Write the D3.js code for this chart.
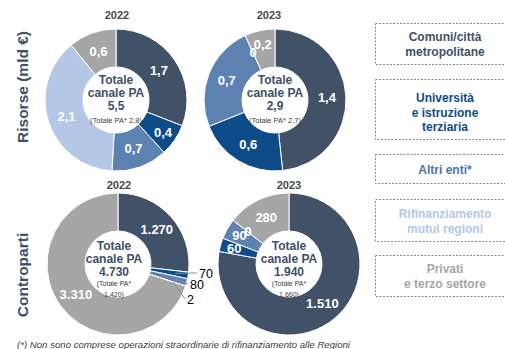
<!DOCTYPE html>
<html>
<head>
<meta charset="utf-8">
<script src="https://cdn.jsdelivr.net/npm/d3@7"></script>
<style>
  html, body { margin: 0; padding: 0; background: #fff; }
  svg { display: block; font-family: "Liberation Sans", Arial, sans-serif; }
</style>
</head>
<body>
<svg id="chart" width="505" height="349"></svg>
<script>
// Categories (legend order = slice order, clockwise from 12 o'clock)
const categories = [
  "Comuni/città metropolitane",
  "Università e istruzione terziaria",
  "Altri enti*",
  "Rifinanziamento mutui regioni",
  "Privati e terzo settore"
];
const legendLines = [
  ["Comuni/città", "metropolitane"],
  ["Università", "e istruzione", "terziaria"],
  ["Altri enti*"],
  ["Rifinanziamento", "mutui regioni"],
  ["Privati", "e terzo settore"]
];
const years = ["2022", "2023"];

// Risorse (mld €)
const risorse2022 = [1.7, 0.4, 0.7, 2.1, 0.6];
const risorse2023 = [1.4, 0.6, 0.7, 0, 0.2];
// Controparti (numero)
const controparti2022 = [1270, 70, 80, 2, 3310];
const controparti2023 = [1510, 60, 90, 0, 280];

// Totals shown in the donut holes
const totaleCanaleRisorse = [5.5, 2.9];
const totalePARisorse = [2.8, 2.7];
const totaleCanaleControparti = [4730, 1940];
const totalePAControparti = [1420, 1660];

const sliceColors = ["#415168", "#0E4C89", "#5D81B1", "#B4C7E7", "#A6A6A6"];
const legendColors = ["#3F5068", "#0E4C89", "#4D76AE", "#B4C7E7", "#A6A6A6"];

const it = d3.formatLocale({ decimal: ",", thousands: ".", grouping: [3], currency: ["€", ""] });
const fmtMld = v => v === 0 ? "0" : it.format(".1f")(v);
const fmtNum = v => it.format(",d")(v);

const svg = d3.select("#chart");
const W = 505, H = 349;
svg.append("rect").attr("width", W).attr("height", H).attr("fill", "#fff");

const outerR = 71, innerR = 33;
const color = d3.scaleOrdinal().domain(categories).range(sliceColors);
const pie = d3.pie().sort(null).value(d => d.value);
const arc = d3.arc().innerRadius(innerR).outerRadius(outerR);
// narrow slices get their label pushed a little further out
const labelArc = d3.arc()
  .innerRadius(d => (d.value > 0 && d.endAngle - d.startAngle < 0.5) ? 57 : 52)
  .outerRadius(d => (d.value > 0 && d.endAngle - d.startAngle < 0.5) ? 57 : 52);

const panels = [
  { values: risorse2022, cx: 116, cy: 100, year: years[0], yearX: 117, yearY: 19, fmt: fmtMld,
    center: ["Totale", "canale PA", fmtMld(totaleCanaleRisorse[0])],
    small: ["(Totale PA* " + fmtMld(totalePARisorse[0]) + ")"], kind: "r" },
  { values: risorse2023, cx: 275, cy: 100, year: years[1], yearX: 269, yearY: 19, fmt: fmtMld,
    center: ["Totale", "canale PA", fmtMld(totaleCanaleRisorse[1])],
    small: ["(Totale PA* " + fmtMld(totalePARisorse[1]) + ")"], kind: "r" },
  { values: controparti2022, cx: 118, cy: 264, year: years[0], yearX: 119, yearY: 189, fmt: fmtNum,
    center: ["Totale", "canale PA", fmtNum(totaleCanaleControparti[0])],
    small: ["(Totale PA*", fmtNum(totalePAControparti[0]) + ")"], kind: "c", textDx: -4,
    callouts: [[81, 9], [72, 20], [69, 35]] },
  { values: controparti2023, cx: 289, cy: 264, year: years[1], yearX: 289, yearY: 189, fmt: fmtNum,
    center: ["Totale", "canale PA", fmtNum(totaleCanaleControparti[1])],
    small: ["(Totale PA*", fmtNum(totalePAControparti[1]) + ")"], kind: "c" }
];

panels.forEach(p => {
  const data = p.values.map((v, i) => ({ cat: categories[i], value: v }));
  const arcs = pie(data);
  const g = svg.append("g").attr("transform", `translate(${p.cx},${p.cy})`);

  g.selectAll("path.slice").data(arcs).join("path")
    .attr("class", "slice")
    .attr("d", arc)
    .attr("fill", d => color(d.data.cat))
    .attr("stroke", "#fff")
    .attr("stroke-width", 1);

  // slice labels: inside, or with a leader line for the thin slices
  let ci = 0;
  arcs.forEach(d => {
    const ang = d.endAngle - d.startAngle;
    if (p.callouts && ang > 0 && ang < 0.15) {
      const off = p.callouts[ci++];
      const mid = (d.startAngle + d.endAngle) / 2;
      const sx = Math.sin(mid) * 58, sy = -Math.cos(mid) * 58;
      g.append("line")
        .attr("x1", sx).attr("y1", sy).attr("x2", off[0] - 2).attr("y2", off[1])
        .attr("stroke", "#7F90A8").attr("stroke-width", 1);
      g.append("text")
        .attr("x", off[0]).attr("y", off[1] + 4.5)
        .attr("font-size", 12.5).attr("fill", "#000")
        .text(p.fmt(d.data.value));
    } else {
      const c = labelArc.centroid(d);
      g.append("text")
        .attr("x", c[0]).attr("y", c[1] + 4.5)
        .attr("text-anchor", "middle")
        .attr("font-size", 13).attr("font-weight", "bold").attr("fill", "#fff")
        .text(p.fmt(d.data.value));
    }
  });

  // hole text
  const dx = p.textDx || 0;
  const bigDy = p.kind === "r" ? [-16, -3, 10] : [-14, -1, 12];
  const smallDy = p.kind === "r" ? [23] : [22, 33];
  p.center.forEach((t, i) => {
    g.append("text").attr("x", dx).attr("y", bigDy[i])
      .attr("text-anchor", "middle").attr("font-size", 12).attr("font-weight", "bold")
      .attr("fill", "#3F5068").text(t);
  });
  p.small.forEach((t, i) => {
    g.append("text").attr("x", dx).attr("y", smallDy[i])
      .attr("text-anchor", "middle").attr("font-size", p.kind === "r" ? 7.5 : 7)
      .attr("fill", "#404040").text(t);
  });

  svg.append("text").attr("x", p.yearX).attr("y", p.yearY)
    .attr("text-anchor", "middle").attr("font-size", 11).attr("font-weight", "bold")
    .attr("fill", "#4A4A4A").text(p.year);
});

// row titles
[["Risorse (mld €)", 87], ["Controparti", 275]].forEach(([t, y]) => {
  svg.append("text")
    .attr("transform", `translate(28,${y}) rotate(-90)`)
    .attr("text-anchor", "middle").attr("font-size", 15.5).attr("font-weight", "bold")
    .attr("fill", "#3F5068").text(t);
});

// legend boxes
const boxes = [[23, 41], [79, 60], [154, 29], [199, 42], [255, 41]];
const lineCenters = [[37, 52], [98, 112.5, 127], [169.5], [213.5, 228.5], [269, 284]];
const lg = svg.append("g");
categories.forEach((c, i) => {
  lg.append("rect")
    .attr("x", 375.5).attr("y", boxes[i][0] + 0.5)
    .attr("width", 140).attr("height", boxes[i][1])
    .attr("fill", "none").attr("stroke", "#8A8A8A").attr("stroke-width", 1)
    .attr("stroke-dasharray", "2,1.5");
  legendLines[i].forEach((t, j) => {
    lg.append("text")
      .attr("x", 445).attr("y", lineCenters[i][j] + 4.3)
      .attr("text-anchor", "middle").attr("font-size", 12).attr("font-weight", "bold")
      .attr("fill", legendColors[i]).text(t);
  });
});

// footnote
svg.append("text")
  .attr("x", 17).attr("y", 347.5)
  .attr("font-size", 8.5).attr("font-style", "italic").attr("fill", "#404040")
  .attr("textLength", 333).attr("lengthAdjust", "spacingAndGlyphs")
  .text("(*) Non sono comprese operazioni straordinarie di rifinanziamento alle Regioni");
</script>
</body>
</html>
